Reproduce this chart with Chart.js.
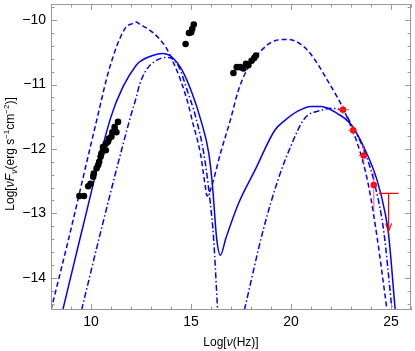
<!DOCTYPE html>
<html><head><meta charset="utf-8">
<script src="https://cdn.jsdelivr.net/npm/chart.js@4"></script>
<style>html,body{margin:0;padding:0;background:#fff}#wrap{width:415px;height:351px}</style>
</head><body><div id="wrap"><canvas id="c" width="415" height="351"></canvas></div>
<script>
// ---- axis ranges & ticks ----
const xRange = [8, 26];
const yRange = [-14.5, -9.75];
const xTicks = [10, 15, 20, 25];
const yTicks = [-14, -13, -12, -11, -10];

// ---- model curves (log nu, log nuFnu) ----
const dashedX = [8.0, 8.87, 10.28, 10.94, 11.68, 12.09, 12.25, 12.42, 13.08, 13.74, 14.15, 14.49, 14.90, 15.06, 15.47, 15.72, 15.80, 16.05, 16.47, 16.96, 17.37, 17.87, 18.52, 19.19, 19.85, 20.67, 21.33, 21.83, 22.32, 22.65, 23.48, 23.89, 24.30, 24.80];
const dashedY = [-14.5, -13.41, -11.56, -10.73, -10.14, -10.05, -10.03, -10.06, -10.19, -10.42, -10.68, -10.94, -11.35, -11.56, -12.07, -12.59, -12.73, -12.56, -12.07, -11.56, -11.09, -10.73, -10.47, -10.32, -10.30, -10.42, -10.68, -10.94, -11.20, -11.40, -12.07, -12.59, -13.36, -14.5];

const solidX = [8.59, 9.53, 10.99, 11.59, 12.26, 12.42, 13.08, 13.57, 14.07, 14.56, 15.06, 15.50, 15.89, 16.08, 16.28, 16.47, 16.74, 17.37, 18.20, 19.19, 19.68, 20.30, 21.00, 21.50, 22.32, 23.00, 23.64, 24.30, 24.71, 24.88, 25.21];
const solidY = [-14.5, -13.29, -11.51, -11.04, -10.70, -10.65, -10.55, -10.52, -10.58, -10.78, -11.14, -11.56, -12.07, -12.59, -13.38, -13.65, -13.39, -12.85, -12.33, -11.71, -11.56, -11.42, -11.34, -11.34, -11.45, -11.62, -11.97, -12.48, -13.00, -13.33, -14.5];

const dashDotLowX = [9.53, 10.45, 11.93, 12.26, 12.42, 12.75, 13.25, 13.74, 14.07, 14.40, 14.81, 15.23, 15.64, 15.97, 16.13, 16.33];
const dashDotLowY = [-14.5, -13.33, -11.55, -11.20, -11.01, -10.78, -10.63, -10.58, -10.60, -10.73, -11.09, -11.50, -12.07, -12.85, -13.39, -14.5];
const dashDotHighX = [17.67, 18.61, 19.35, 20.00, 20.67, 21.50, 22.00, 22.65, 23.00, 23.72, 24.22, 24.63, 25.05];
const dashDotHighY = [-14.5, -13.26, -12.48, -11.95, -11.53, -11.40, -11.37, -11.43, -11.61, -12.07, -12.59, -13.26, -14.5];

// ---- observed data ----
const obsX = [9.42, 9.65, 9.86, 9.98, 10.11, 10.14, 10.28, 10.36, 10.41, 10.48, 10.52, 10.60, 10.60, 10.74, 10.74, 10.85, 10.90, 11.02, 11.07, 11.18, 11.27, 11.18, 11.35,
              15.14, 15.06, 14.90, 15.01, 14.73, 17.12, 17.29, 17.46, 17.62, 17.75, 17.87, 18.03, 18.16, 18.25];
const obsY = [-12.73, -12.73, -12.58, -12.54, -12.43, -12.38, -12.30, -12.25, -12.20, -12.12, -12.07, -12.02, -11.97, -12.02, -11.92, -11.89, -11.84, -11.81, -11.74, -11.71, -11.74, -11.66, -11.58,
              -10.07, -10.14, -10.20, -10.19, -10.37, -10.82, -10.73, -10.73, -10.75, -10.68, -10.70, -10.63, -10.59, -10.55];

const gammaX = [22.60, 23.11, 23.64, 24.14];
const gammaY = [-11.39, -11.71, -12.10, -12.56];
const gammaXLo = [22.32, 22.85, 23.40, 23.97];
const gammaXHi = [22.90, 23.31, 23.84, 24.31];
const gammaYLo = [-11.46, -11.78, -12.25, -12.98];
const gammaYHi = [-11.32, -11.64, -11.94, -12.33];

const ulX = 24.88, ulXLo = 24.39, ulXHi = 25.38, ulY = -12.69, ulYEnd = -13.28;

// ---- helpers ----
const FONT = "'Liberation Sans', Arial, sans-serif";
function pts(xs, ys) { return xs.map((x, i) => ({ x: x, y: ys[i] })); }
function fmt(v) { return (v < 0 ? '\u2212' : '') + Math.abs(v); }
const BLUE = '#0000ff';
function curve(xs, ys, dash, ord) {
  return { data: pts(xs, ys), showLine: true, pointRadius: 0, borderColor: BLUE, borderWidth: 1.5,
           borderDash: dash, cubicInterpolationMode: 'monotone', fill: false, order: ord };
}

const framePlugin = {
  id: 'frame',
  afterDraw(chart) {
    const { ctx, chartArea: a, scales: { x, y } } = chart;
    ctx.save();
    ctx.strokeStyle = '#999';
    ctx.lineWidth = 1;
    ctx.strokeRect(Math.round(a.left) + 0.5, Math.round(a.top) + 0.5, Math.round(a.right - a.left) - 1, Math.round(a.bottom - a.top) - 1);
    ctx.beginPath();
    for (let v = Math.ceil(xRange[0]); v <= xRange[1]; v++) {
      const px = Math.round(x.getPixelForValue(v)) + 0.5;
      const L = xTicks.includes(v) ? 6 : 3.5;
      ctx.moveTo(px, a.bottom); ctx.lineTo(px, a.bottom - L);
      ctx.moveTo(px, a.top); ctx.lineTo(px, a.top + L);
    }
    for (let i = Math.ceil(yRange[0] * 5); i <= Math.floor(yRange[1] * 5); i++) {
      const v = i / 5;
      const py = Math.round(y.getPixelForValue(v)) + 0.5;
      const L = (i % 5 === 0) ? 6 : 3.5;
      ctx.moveTo(a.left, py); ctx.lineTo(a.left + L, py);
      ctx.moveTo(a.right, py); ctx.lineTo(a.right - L, py);
    }
    ctx.stroke();
    ctx.restore();

    // axis titles
    function rich(parts, cx, cy) {
      let w = 0;
      parts.forEach(p => { ctx.font = (p.i ? 'italic ' : '') + p.s + 'px ' + FONT; p.w = ctx.measureText(p.t).width; w += p.w; });
      let xx = cx - w / 2;
      parts.forEach(p => { ctx.font = (p.i ? 'italic ' : '') + p.s + 'px ' + FONT; ctx.fillText(p.t, xx, cy + (p.dy || 0)); xx += p.w; });
    }
    ctx.save();
    ctx.fillStyle = '#000';
    ctx.textBaseline = 'alphabetic';
    ctx.textAlign = 'left';
    rich([{ t: 'Log[', s: 12 }, { t: '\u03bd', s: 12, i: 1 }, { t: '(Hz)]', s: 12 }], (a.left + a.right) / 2, 345.5);
    ctx.translate(14, 154);
    ctx.rotate(-Math.PI / 2);
    rich([{ t: 'Log[', s: 12 }, { t: '\u03bdF', s: 12, i: 1 }, { t: '\u03bd', s: 9, i: 1, dy: 3 },
          { t: '(erg s', s: 12 }, { t: '\u22121', s: 8, dy: -5 }, { t: 'cm', s: 12 }, { t: '\u22122', s: 8, dy: -5 }, { t: ')]', s: 12 }], 0, 0);
    ctx.restore();
  }
};

const errPlugin = {
  id: 'errbars',
  afterDatasetsDraw(chart) {
    const { ctx, chartArea: a, scales: { x, y } } = chart;
    ctx.save();
    ctx.beginPath(); ctx.rect(a.left, a.top, a.right - a.left, a.bottom - a.top); ctx.clip();
    ctx.strokeStyle = 'rgba(255,40,40,0.8)';
    ctx.lineWidth = 1;
    ctx.beginPath();
    for (let i = 0; i < gammaX.length; i++) {
      const px = x.getPixelForValue(gammaX[i]), py = y.getPixelForValue(gammaY[i]);
      ctx.moveTo(x.getPixelForValue(gammaXLo[i]), py); ctx.lineTo(x.getPixelForValue(gammaXHi[i]), py);
      ctx.moveTo(px, y.getPixelForValue(gammaYLo[i])); ctx.lineTo(px, y.getPixelForValue(gammaYHi[i]));
    }
    ctx.stroke();
    ctx.strokeStyle = '#ff0000';
    ctx.lineWidth = 1.2;
    const ux = x.getPixelForValue(ulX), uy = y.getPixelForValue(ulY), ue = y.getPixelForValue(ulYEnd);
    ctx.beginPath();
    ctx.moveTo(x.getPixelForValue(ulXLo), uy); ctx.lineTo(x.getPixelForValue(ulXHi), uy);
    ctx.moveTo(ux, uy); ctx.lineTo(ux, ue);
    ctx.moveTo(ux - 3, ue - 8); ctx.lineTo(ux, ue); ctx.lineTo(ux + 3, ue - 8);
    ctx.stroke();
    ctx.restore();
  }
};

function noPad(s) { s.paddingTop = 0; s.paddingBottom = 0; s.paddingLeft = 0; s.paddingRight = 0; }
const tickFont = { family: FONT, size: 14 };
new Chart(document.getElementById('c'), {
  type: 'scatter',
  data: {
    datasets: [
      { data: pts(gammaX, gammaY), pointRadius: 3.2, borderWidth: 0, backgroundColor: '#ff0000', order: 0 },
      { data: pts(obsX, obsY), pointRadius: 3.3, borderWidth: 0, backgroundColor: '#000000', order: 1 },
      curve(dashedX, dashedY, [5, 3], 2),
      curve(solidX, solidY, [], 3),
      curve(dashDotLowX, dashDotLowY, [6, 2.5, 1.5, 2.5], 4),
      curve(dashDotHighX, dashDotHighY, [6, 2.5, 1.5, 2.5], 5)
    ]
  },
  options: {
    responsive: false, animation: false, devicePixelRatio: 1, events: [],
    plugins: { legend: { display: false }, tooltip: { enabled: false } },
    layout: { padding: { top: 3, right: 2, left: 0, bottom: 0 } },
    scales: {
      x: {
        type: 'linear', min: xRange[0], max: xRange[1],
        afterBuildTicks(s) { s.ticks = xTicks.map(v => ({ value: v })); },
        afterFit(s) { s.height = 41; noPad(s); },
        grid: { display: false, drawTicks: false }, border: { display: false },
        ticks: { padding: 4, font: tickFont, color: '#000', maxRotation: 0, callback: v => fmt(v) }
      },
      y: {
        type: 'linear', min: yRange[0], max: yRange[1],
        afterBuildTicks(s) { s.ticks = yTicks.map(v => ({ value: v })); },
        afterFit(s) { s.width = 51; noPad(s); },
        grid: { display: false, drawTicks: false }, border: { display: false },
        ticks: { padding: 5, font: tickFont, color: '#000', callback: v => fmt(v) }
      }
    }
  },
  plugins: [framePlugin, errPlugin]
});
</script>
</body></html>
